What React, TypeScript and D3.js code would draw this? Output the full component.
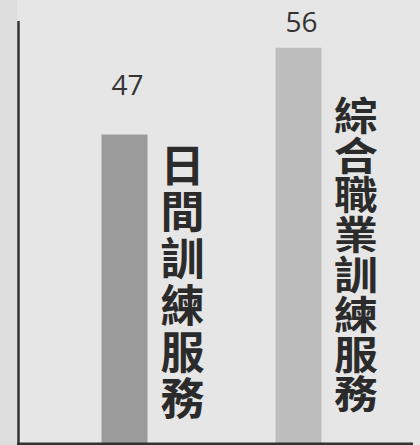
import React from "react";
import * as d3 from "d3";

const categories = ["日間訓練服務", "綜合職業訓練服務"];
const values = [47, 56];
const barColors = ["#9b9b9b", "#bdbdbd"];

const W = 420;
const H = 445;

export default function App() {
  const baseY = 443;
  const x = d3.scalePoint<string>().domain(categories).range([124.5, 298.5]);
  const y = d3.scaleLinear().domain([15, 60]).range([baseY, baseY - 45 * 9.64]);
  const yLabel = d3.scaleLinear().domain([0, 60]).range([424, 4]);
  const barW = 46;

  const catStyles = [
    { dx: 58, top: 143, pitch: 46.7, size: 44, sx: 1 },
    { dx: 57.5, top: 96, pitch: 39.8, size: 38.5, sx: 1.14 },
  ];

  return (
    <svg
      width={W}
      height={H}
      style={{ position: "absolute", left: 0, top: 0, display: "block" }}
    >
      <rect x={0} y={0} width={W} height={H} fill="#e6e6e6" />
      <rect x={0} y={0} width={17} height={H} fill="#dddddd" />
      {categories.map((c, i) => {
        const cx = x(c) as number;
        return (
          <g key={c}>
            <rect
              x={cx - barW / 2}
              y={y(values[i])}
              width={barW}
              height={baseY - y(values[i])}
              fill={barColors[i]}
            />
            <text
              x={cx + 3}
              y={yLabel(values[i])}
              textAnchor="middle"
              fontFamily="'Open Sans', sans-serif"
              fontSize={28}
              fill="#333"
            >
              {values[i]}
            </text>
            {Array.from(c).map((ch, k) => {
              const s = catStyles[i];
              const tx = cx + s.dx;
              const ty = s.top + k * s.pitch + s.size * 0.88;
              return (
                <text
                  key={k}
                  x={0}
                  y={0}
                  transform={`translate(${tx},${ty}) scale(${s.sx},1)`}
                  textAnchor="middle"
                  fontFamily="'Noto Sans CJK TC', sans-serif"
                  fontWeight={700}
                  fontSize={s.size}
                  fill="#2b2b2b"
                >
                  {ch}
                </text>
              );
            })}
          </g>
        );
      })}
      <line x1={18.5} x2={18.5} y1={21} y2={445} stroke="#333" strokeWidth={2.5} />
      <line x1={17} x2={413} y1={444} y2={444} stroke="#333" strokeWidth={3} />
    </svg>
  );
}
